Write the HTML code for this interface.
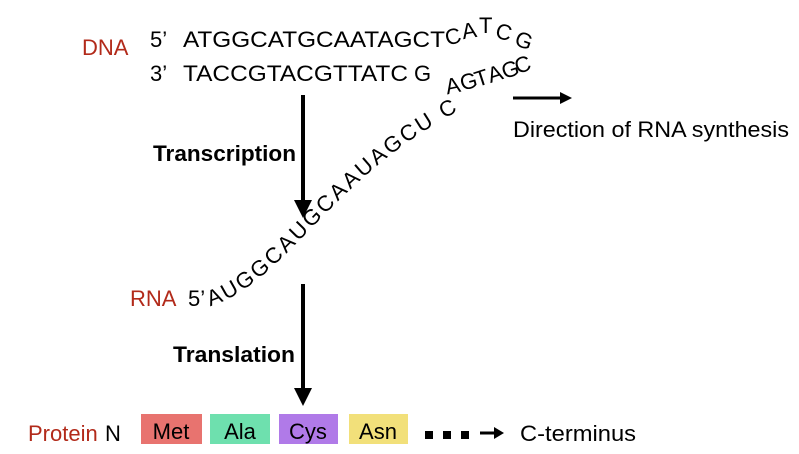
<!DOCTYPE html>
<html><head><meta charset="utf-8"><style>
html,body{margin:0;padding:0;background:#fff;}
svg{display:block;font-family:"Liberation Sans",sans-serif;}
</style></head><body>
<svg width="799" height="454" viewBox="0 0 799 454" xmlns="http://www.w3.org/2000/svg">
<defs><path id="rp" d="M210,306 C290,282 335,165 485,98"/></defs>
<g font-size="22" fill="#000">
<text x="82" y="55" fill="#b22a1a">DNA</text>
<text x="150" y="47">5’</text>
<text x="183" y="47" textLength="262" lengthAdjust="spacingAndGlyphs">ATGGCATGCAATAGCT</text>
<text x="447" y="44" transform="rotate(-15 454 44)">C</text>
<text x="463" y="38" transform="rotate(-10 470 38)">A</text>
<text x="479" y="33">T</text>
<text x="494" y="39" transform="rotate(15 501 39)">C</text>
<text x="513" y="47" transform="rotate(20 520 47)">G</text>
<text x="150" y="81">3’</text>
<text x="183" y="81" textLength="225" lengthAdjust="spacingAndGlyphs">TACCGTACGTTATC</text>
<text x="414" y="81">G</text>
<text x="447" y="93" transform="rotate(-12 454 93)">A</text>
<text x="462" y="89" transform="rotate(-15 469 89)">G</text>
<text x="477" y="85" transform="rotate(-18 484 85)">T</text>
<text x="490" y="81" transform="rotate(-18 497 81)">A</text>
<text x="504" y="77" transform="rotate(-18 511 77)">G</text>
<text x="517" y="72" transform="rotate(-18 524 72)">C</text>
<text x="513" y="137" textLength="276" lengthAdjust="spacingAndGlyphs">Direction of RNA synthesis</text>
<text x="153" y="161" font-weight="bold" textLength="143" lengthAdjust="spacingAndGlyphs">Transcription</text>
<text x="173" y="362" font-weight="bold" textLength="122" lengthAdjust="spacingAndGlyphs">Translation</text>
<text x="130" y="306" fill="#b22a1a">RNA</text>
<text x="188" y="306">5’</text>
<text letter-spacing="2.5"><textPath href="#rp">AUGGCAUGCAAUAGCU C</textPath></text>
<text x="28" y="441" fill="#b22a1a">Protein</text>
<text x="105" y="441">N</text>
</g>
<line x1="513" y1="98" x2="562" y2="98" stroke="#000" stroke-width="3"/>
<polygon points="560,92 572,98 560,104" fill="#000"/>
<line x1="303" y1="95" x2="303" y2="202" stroke="#000" stroke-width="4"/>
<polygon points="294,200 312,200 303,218" fill="#000"/>
<line x1="303" y1="284" x2="303" y2="390" stroke="#000" stroke-width="4"/>
<polygon points="294,388 312,388 303,406" fill="#000"/>
<rect x="141" y="414" width="61" height="30" fill="#e8736f"/>
<rect x="210" y="414" width="60" height="30" fill="#6ee0ae"/>
<rect x="279" y="414" width="59" height="30" fill="#b07ae8"/>
<rect x="349" y="414" width="59" height="30" fill="#f2e07a"/>
<g font-size="22" text-anchor="middle">
<text x="171" y="439">Met</text>
<text x="240" y="439">Ala</text>
<text x="308" y="439">Cys</text>
<text x="378" y="439">Asn</text>
</g>
<rect x="425" y="431" width="8" height="8" fill="#000"/>
<rect x="443" y="431" width="8" height="8" fill="#000"/>
<rect x="461" y="431" width="8" height="8" fill="#000"/>
<line x1="480" y1="433" x2="496" y2="433" stroke="#000" stroke-width="3"/>
<polygon points="494,427 504,433 494,439" fill="#000"/>
<text x="520" y="441" font-size="22" textLength="116" lengthAdjust="spacingAndGlyphs">C-terminus</text>
</svg>
</body></html>
